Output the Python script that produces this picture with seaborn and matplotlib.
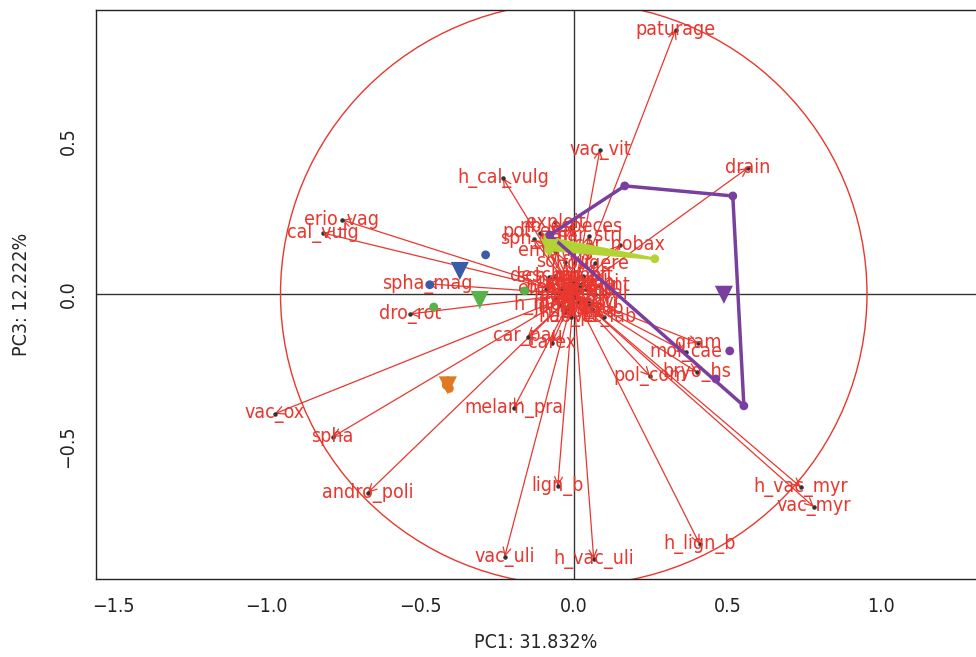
import numpy as np
import pandas as pd
import matplotlib
matplotlib.use("Agg")
import matplotlib.pyplot as plt
from matplotlib.patches import Circle, Polygon
from matplotlib import font_manager
import seaborn as sns

# ---------------- data ----------------
var_names = ["paturage", "drain", "vac_vit", "h_cal_vulg", "erio_vag", "cal_vulg",
             "spha_mag", "dro_rot", "vac_ox", "spha", "andro_poli", "melam_pra",
             "lign_b", "vac_uli", "h_vac_uli", "h_lign_b", "h_vac_myr", "vac_myr",
             "pol_com", "bryo_hs", "mol_cae", "gram", "car_pau", "carex",
             "exploit", "pot_erec", "nb_especes", "sph_pal", "nar_stri", "car_nobax",
             "emp_nig", "sol_vir", "fougere", "sch_pal", "eri_tet", "h_mol_cae",
             "hab_pe", "ver_lab", "dro_int", "jun_eff", "agr_can", "pin_syl",
             "bet_pub", "fes_rub", "ant_odo", "pot_pal", "deschamp", "mol_ca",
             "h_eri", "rhyn_alb", "jun_squ", "car_echi", "men_tri", "h_pin",
             "lyc_ina", "nar_oss"]
var_pc1 = [0.332, 0.567, 0.085, -0.231, -0.756, -0.818,
           -0.476, -0.534, -0.974, -0.785, -0.671, -0.195,
           -0.052, -0.225, 0.065, 0.410, 0.739, 0.782,
           0.248, 0.401, 0.365, 0.404, -0.150, -0.070,
           -0.060, -0.110, -0.010, -0.130, 0.050, 0.150,
           -0.060, -0.030, 0.070, -0.080, -0.090, -0.045,
           -0.010, 0.100, 0.085, 0.030, 0.000, 0.050,
           -0.040, 0.060, 0.020, 0.070, -0.060, 0.040,
           -0.060, 0.010, -0.020, 0.030, 0.010, -0.030,
           0.040, -0.010]
var_pc3 = [0.866, 0.413, 0.472, 0.380, 0.243, 0.200,
           0.033, -0.066, -0.393, -0.469, -0.652, -0.374,
           -0.630, -0.862, -0.869, -0.820, -0.633, -0.698,
           -0.269, -0.256, -0.190, -0.161, -0.140, -0.160,
           0.235, 0.200, 0.220, 0.180, 0.190, 0.160,
           0.140, 0.105, 0.100, 0.055, 0.015, -0.035,
           -0.075, -0.075, 0.025, 0.060, -0.010, -0.030,
           0.020, -0.050, 0.030, 0.000, 0.060, -0.060,
           -0.015, 0.010, -0.045, 0.035, -0.025, -0.060,
           0.015, 0.040]

# individuals (sites) by group
grp_labels = ["blue", "blue", "green", "green", "lime", "lime", "lime",
              "purple", "purple", "purple", "purple", "purple", "purple",
              "orange", "orange", "orange"]
ind_pc1 = [-0.287, -0.469, -0.456, -0.160, -0.085, -0.081, 0.264,
           -0.078, 0.166, 0.518, 0.554, 0.508, 0.463,
           -0.410, -0.415, -0.405]
ind_pc3 = [0.128, 0.030, -0.043, 0.010, 0.184, 0.144, 0.115,
           0.193, 0.354, 0.321, -0.367, -0.187, -0.279,
           -0.285, -0.300, -0.310]

# group centroids
cen_groups = ["blue", "green", "lime", "purple", "orange"]
cen_pc1 = [-0.371, -0.306, -0.078, 0.489, -0.410]
cen_pc3 = [0.075, -0.020, 0.150, -0.003, -0.300]

# hull order (indices into individuals)
hulls = {"lime": [4, 6, 5], "purple": [7, 8, 9, 10], "orange": [13, 14, 15]}

palette = {"blue": "#3a5ba8", "green": "#58b24a", "lime": "#b3d335",
           "purple": "#7a3f9e", "orange": "#e07a22"}

RED = "#e8372e"

# ---------------- figure ----------------
sns.set_style("white")
plt.rcParams['font.family'] = ['DejaVu Sans']
cond = any(f.name == "DejaVu Sans" and str(f.stretch) in ("condensed", "semi-condensed", "75", "87.5")
           for f in font_manager.fontManager.ttflist)
STRETCH = "condensed" if cond else "normal"
LFS = 14 if cond else 12.5

fig = plt.figure(figsize=(9.76, 6.57), dpi=100)
ax = fig.add_axes([0.098, 0.119, 0.902, 0.866])

ax.set_xlim(-1.557, 1.31)
ax.set_ylim(-0.934, 0.931)

ax.axhline(0, color="#333333", lw=1.0, zorder=1)
ax.axvline(0, color="#333333", lw=1.0, zorder=1)

ax.add_patch(Circle((0, 0), 0.955, fill=False, ec=RED, lw=1.0, zorder=2))

# variable arrows
for n, x, y in zip(var_names, var_pc1, var_pc3):
    ax.annotate("", xy=(x, y), xytext=(0, 0),
                arrowprops=dict(arrowstyle="->", color=RED, lw=0.9,
                                mutation_scale=14, shrinkA=0, shrinkB=0),
                zorder=3)
ax.scatter(var_pc1, var_pc3, s=5, color="#333333", zorder=4)
for n, x, y in zip(var_names, var_pc1, var_pc3):
    ax.text(x, y, n, color=RED, fontsize=LFS, fontstretch=STRETCH,
            ha="center", va="center", zorder=5)

# hulls
for g, idx in hulls.items():
    pts = np.array([[ind_pc1[i], ind_pc3[i]] for i in idx])
    ax.add_patch(Polygon(pts, closed=True, fill=(g != "purple"),
                         fc=palette[g], ec=palette[g],
                         lw=2.5 if g == "purple" else 1.8, zorder=6))

df_ind = pd.DataFrame({"PC1": ind_pc1, "PC3": ind_pc3, "grp": grp_labels})
sns.scatterplot(data=df_ind, x="PC1", y="PC3", hue="grp", palette=palette,
                s=40, edgecolor="none", legend=False, ax=ax, zorder=7)
df_cen = pd.DataFrame({"PC1": cen_pc1, "PC3": cen_pc3, "grp": cen_groups})
sns.scatterplot(data=df_cen, x="PC1", y="PC3", hue="grp", palette=palette,
                marker="v", s=170, edgecolor="none", legend=False, ax=ax, zorder=8)

# axes styling
ax.spines["right"].set_visible(False)
for side in ["left", "bottom", "top"]:
    ax.spines[side].set_color("#222222")
    ax.spines[side].set_linewidth(1.0)
ax.set_xticks([-1.5, -1.0, -0.5, 0.0, 0.5, 1.0])
ax.set_xticklabels(["\u22121.5", "\u22121.0", "\u22120.5", "0.0", "0.5", "1.0"],
                   fontstretch=STRETCH)
ax.set_yticks([-0.5, 0.0, 0.5])
ax.set_yticklabels(["\u22120.5", "0.0", "0.5"], rotation=90, va="center",
                   fontstretch=STRETCH)
ax.tick_params(axis="both", which="both", direction="out", length=7, width=1,
               colors="#222222", labelsize=LFS, pad=6)
ax.set_xlabel("PC1: 31.832%", fontsize=LFS, fontstretch=STRETCH, labelpad=12)
ax.set_ylabel("PC3: 12.222%", fontsize=LFS, fontstretch=STRETCH, labelpad=20)

fig.savefig("out.png", dpi=100)
